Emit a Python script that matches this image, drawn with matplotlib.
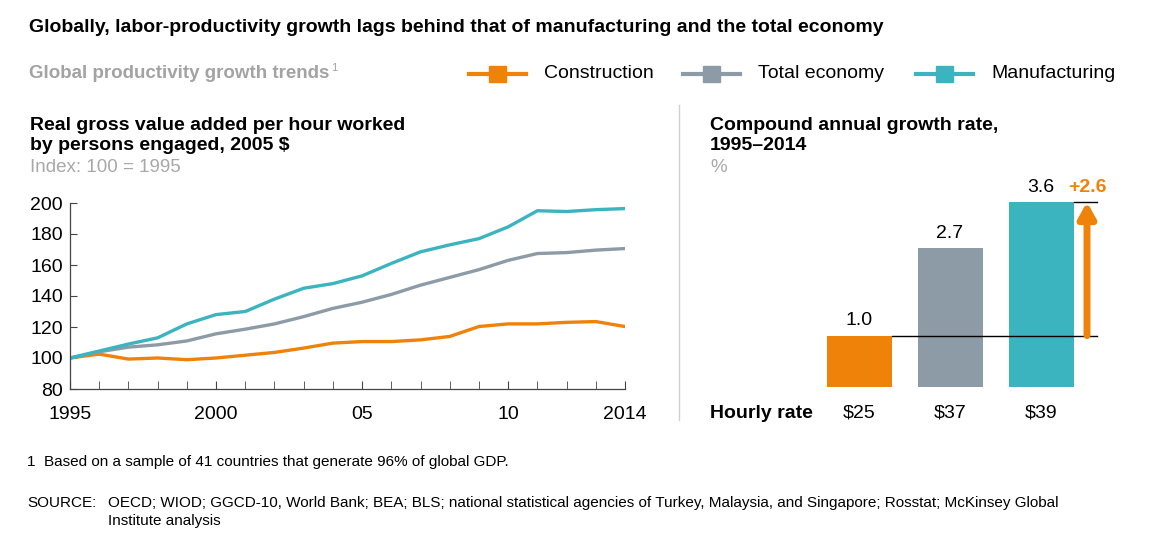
import matplotlib
matplotlib.use('Agg')
import matplotlib.pyplot as plt
import numpy as np

plt.rcParams['font.family'] = ['Liberation Sans', 'DejaVu Sans']

# data
years = list(range(1995, 2015))
construction = [100, 102.5, 99.3, 100, 98.9, 100, 101.8, 103.6, 106.4, 109.6,
                110.6, 110.6, 111.7, 113.9, 120.3, 122, 122, 123, 123.5, 120.3]
total_economy = [100, 104, 107, 108.5, 111, 115.6, 118.6, 122, 126.7, 132,
                 136, 141, 147, 152, 157, 163, 167.4, 168, 169.6, 170.6]
manufacturing = [100, 104.5, 109, 113, 122, 128, 130, 138, 145, 148,
                 153, 161, 168.5, 173, 177, 184.6, 195, 194.5, 195.7, 196.4]
year_ticks = [1995, 2000, 2005, 2010, 2014]
year_labels = ['1995', '2000', '05', '10', '2014']

cagr = [1.0, 2.7, 3.6]
hourly = ['$25', '$37', '$39']
series_names = ['Construction', 'Total economy', 'Manufacturing']

orange = '#EF8209'
gray = '#8D9BA6'
teal = '#3BB4BF'
colors = [orange, gray, teal]

W, H = 1152, 545
fig = plt.figure(figsize=(W / 100, H / 100), dpi=100)


def px(x, y):
    return x / W, 1 - y / H


def ftext(x, y, s, **kw):
    fx, fy = px(x, y)
    fig.text(fx, fy, s, **kw)


# headers
ftext(29, 27, 'Globally, labor-productivity growth lags behind that of manufacturing and the total economy',
      fontsize=14, fontweight='bold', va='center')
ftext(29, 74, 'Global productivity growth trends', fontsize=13.5, fontweight='bold',
      color='#A3A3A3', va='center')
ftext(331, 68, '1', fontsize=8, color='#A3A3A3', va='center')

# legend
leg_x = [469, 683, 916]
for lx, name, c in zip(leg_x, series_names, colors):
    fig.add_artist(plt.Line2D([lx / W, (lx + 57) / W], [1 - 74 / H] * 2,
                              color=c, lw=3, transform=fig.transFigure))
    fig.add_artist(plt.Rectangle(((lx + 20) / W, 1 - 82 / H), 17 / W, 16 / H,
                                 color=c, transform=fig.transFigure))
    ftext(lx + 75, 74, name, fontsize=14, va='center')

# left panel titles
ftext(30, 125, 'Real gross value added per hour worked', fontsize=14, fontweight='bold', va='center')
ftext(30, 146, 'by persons engaged, 2005 $', fontsize=14, fontweight='bold', va='center')
ftext(30, 167, 'Index: 100 = 1995', fontsize=13.5, color='#A8A8A8', va='center')

# right panel titles
ftext(710, 125, 'Compound annual growth rate,', fontsize=14, fontweight='bold', va='center')
ftext(710, 146, '1995\u20132014', fontsize=14, fontweight='bold', va='center')
ftext(710, 167, '%', fontsize=13.5, color='#A8A8A8', va='center')

# divider
fig.add_artist(plt.Line2D([679 / W] * 2, [1 - 105 / H, 1 - 420 / H],
                          color='#D0D0D0', lw=1, transform=fig.transFigure))

# line chart
l, b = px(70, 389)
r, t = px(625, 203)
ax = fig.add_axes([l, b, r - l, t - b])
ax.plot(years, construction, color=orange, lw=2.4)
ax.plot(years, total_economy, color=gray, lw=2.4)
ax.plot(years, manufacturing, color=teal, lw=2.4)
ax.set_xlim(1995, 2014)
ax.set_ylim(80, 200)
ax.set_yticks([80, 100, 120, 140, 160, 180, 200])
ax.set_xticks(year_ticks)
ax.set_xticklabels(year_labels)
ax.set_xticks(years, minor=True)
ax.tick_params(axis='y', direction='in', length=5, labelsize=14, pad=5, color='#444444')
ax.tick_params(axis='x', which='both', direction='in', length=6, labelsize=14, pad=12, color='#444444')
for s in ['top', 'right']:
    ax.spines[s].set_visible(False)
for s in ['left', 'bottom']:
    ax.spines[s].set_color('#444444')
    ax.spines[s].set_linewidth(0.9)
ax.patch.set_alpha(0)

# bar chart
unit = 91
l2, b2 = px(800, 387)
r2, t2 = px(1110, 202)
bx = fig.add_axes([l2, b2, r2 - l2, t2 - b2])
bx.set_xlim((800 - 859) / unit, (1110 - 859) / unit)
bx.set_ylim(0, 3.6)
pos = np.arange(len(cagr))
bw = 65 / unit
bx.bar(pos, cagr, width=bw, color=colors)
for p, v in zip(pos, cagr):
    bx.text(p, v + 0.12, f'{v:.1f}', ha='center', va='bottom', fontsize=14)
x_end = (1097 - 859) / unit
x_arrow = (1087 - 859) / unit
bx.plot([pos[0] + bw / 2, x_end], [cagr[0], cagr[0]], color='black', lw=1, clip_on=False)
bx.plot([pos[2] + bw / 2, x_end], [cagr[2], cagr[2]], color='black', lw=1, clip_on=False)
bx.annotate('', xy=(x_arrow, cagr[2]), xytext=(x_arrow, cagr[0]),
            arrowprops=dict(arrowstyle='-|>,head_length=0.9,head_width=0.5', color=orange, lw=5,
                            shrinkA=0, shrinkB=0), annotation_clip=False)
bx.text(x_arrow, cagr[2] + 0.28, f'+{cagr[2] - cagr[0]:.1f}', color=orange, fontsize=14,
        fontweight='bold', ha='center', va='center')
bx.axis('off')

ftext(710, 413, 'Hourly rate', fontsize=14, fontweight='bold', va='center')
for p, h in zip(pos, hourly):
    ftext(859 + p * unit, 413, h, fontsize=14, ha='center', va='center')

# footnotes
ftext(27, 462, '1  Based on a sample of 41 countries that generate 96% of global GDP.', fontsize=11, va='center')
ftext(27, 503, 'SOURCE:', fontsize=11, va='center')
ftext(108, 503, 'OECD; WIOD; GGCD-10, World Bank; BEA; BLS; national statistical agencies of Turkey, '
                'Malaysia, and Singapore; Rosstat; McKinsey Global', fontsize=11, va='center')
ftext(108, 521, 'Institute analysis', fontsize=11, va='center')

fig.savefig('out.png', dpi=100)
